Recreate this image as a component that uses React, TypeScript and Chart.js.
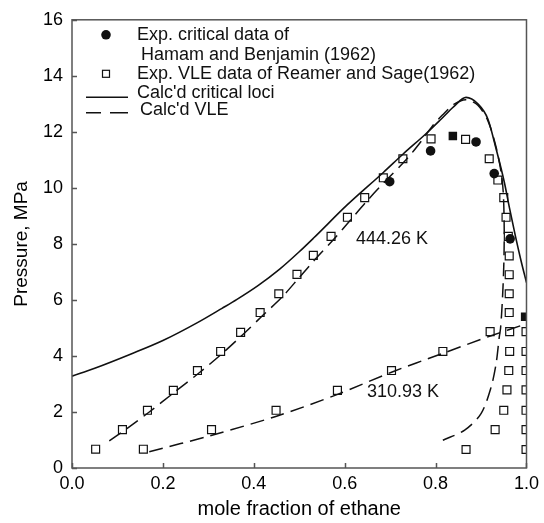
import React, { useEffect, useRef } from "react";
import { Chart, registerables } from "chart.js";

Chart.register(...registerables);

// ---------------- data ----------------
const xTickValues = [0, 0.2, 0.4, 0.6, 0.8, 1.0];
const yTickValues = [0, 2, 4, 6, 8, 10, 12, 14, 16];

// Calc'd critical loci (solid)
const critLocusX = [0, 0.05, 0.13, 0.2, 0.276, 0.33, 0.363, 0.41, 0.457, 0.5, 0.531, 0.606, 0.685, 0.728, 0.78, 0.812, 0.84, 0.867, 0.893, 0.915, 0.933, 0.951, 0.963, 0.976, 0.988, 1.0];
const critLocusY = [3.28, 3.56, 4.07, 4.55, 5.19, 5.7, 6.02, 6.52, 7.1, 7.72, 8.2, 9.4, 10.55, 11.2, 11.95, 12.45, 12.9, 13.23, 13.0, 12.46, 11.4, 10.22, 9.25, 8.25, 7.4, 6.62];

// Calc'd VLE 444.26 K (dashed loop)
const vle444X = [0.082, 0.12, 0.17, 0.225, 0.28, 0.33, 0.375, 0.42, 0.462, 0.5, 0.535, 0.575, 0.61, 0.65, 0.69, 0.735, 0.77, 0.794, 0.815, 0.84, 0.867, 0.893, 0.915, 0.933, 0.944, 0.949, 0.951, 0.95, 0.947, 0.943, 0.94, 0.933, 0.922, 0.9, 0.864, 0.816];
const vle444Y = [0.97, 1.4, 2.0, 2.7, 3.4, 4.08, 4.75, 5.45, 6.1, 6.8, 7.45, 8.15, 8.8, 9.55, 10.25, 11.0, 11.7, 12.23, 12.6, 12.98, 13.15, 12.95, 12.4, 11.46, 10.57, 9.8, 8.5, 7.2, 6.0, 5.0, 4.66, 3.71, 2.88, 1.94, 1.35, 0.99];

// Calc'd VLE 310.93 K (dashed)
const vle311X = [0.17, 0.308, 0.45, 0.583, 0.703, 0.812, 0.922, 1.0];
const vle311Y = [0.58, 1.17, 1.85, 2.62, 3.42, 4.07, 4.72, 5.15];

// Exp. VLE data of Reamer and Sage (1962)
const expVleX = [
  0.052, 0.111, 0.166, 0.223, 0.276, 0.327, 0.371, 0.414, 0.455, 0.495, 0.531, 0.57, 0.606, 0.644, 0.685, 0.728, 0.79,
  0.866, 0.918, 0.937, 0.95, 0.955, 0.96, 0.962, 0.962, 0.962, 0.962, 0.963, 0.963, 0.961, 0.957, 0.95, 0.931, 0.867,
  0.157, 0.307, 0.449, 0.584, 0.703, 0.816, 0.92,
  0.999, 0.999, 0.999, 0.999, 0.999, 0.999, 0.999,
];
const expVleY = [
  0.67, 1.37, 2.06, 2.77, 3.48, 4.16, 4.84, 5.55, 6.22, 6.91, 7.59, 8.27, 8.95, 9.65, 10.36, 11.04, 11.75,
  11.73, 11.04, 10.28, 9.65, 8.95, 8.27, 7.57, 6.9, 6.22, 5.55, 4.87, 4.16, 3.48, 2.79, 2.06, 1.37, 0.66,
  0.67, 1.37, 2.06, 2.77, 3.48, 4.16, 4.87,
  0.66, 1.37, 2.06, 2.79, 3.48, 4.16, 4.87,
];

// Exp. critical data of Hamam and Benjamin (1962)
const expCritX = [0.699, 0.789, 0.838, 0.889, 0.929, 0.964, 0.997];
const expCritY = [10.22, 11.32, 11.85, 11.64, 10.51, 8.18, 5.4];

const legendLabels = [
  "Exp. critical data of",
  "Hamam and Benjamin (1962)",
  "Exp. VLE data of Reamer and Sage(1962)",
  "Calc'd critical loci",
  "Calc'd VLE",
];
const isothermLabels = ["444.26 K", "310.93 K"];
const isothermLabelX = [0.625, 0.649];
const isothermLabelY = [8.16, 2.71];

// ---------------- chart ----------------
const FONT = '"Liberation Sans", Arial, Helvetica, sans-serif';
const INK = "#111";
const AXIS = "#555";

const toPts = (xs: number[], ys: number[]) => xs.map((x, i) => ({ x, y: ys[i] }));

export default function App() {
  const ref = useRef<HTMLCanvasElement>(null);

  useEffect(() => {
    if (!ref.current) return;

    const framePlugin = {
      id: "frame",
      afterDraw(chart: any) {
        const { ctx, chartArea: a, scales } = chart;
        ctx.save();
        ctx.strokeStyle = AXIS;
        ctx.lineWidth = 1.5;
        ctx.strokeRect(a.left, a.top, a.right - a.left, a.bottom - a.top);
        ctx.beginPath();
        xTickValues.forEach((v) => {
          const px = Math.round(scales.x.getPixelForValue(v)) + 0.5;
          ctx.moveTo(px, a.bottom);
          ctx.lineTo(px, a.bottom - 5);
        });
        yTickValues.forEach((v) => {
          const py = Math.round(scales.y.getPixelForValue(v)) + 0.5;
          ctx.moveTo(a.left, py);
          ctx.lineTo(a.left + 5, py);
        });
        ctx.stroke();

        // legend
        const L = a.left;
        const T = a.top;
        ctx.fillStyle = INK;
        ctx.strokeStyle = INK;
        ctx.beginPath();
        ctx.arc(L + 34, T + 15, 4.8, 0, Math.PI * 2);
        ctx.fill();
        ctx.lineWidth = 1.2;
        ctx.strokeRect(L + 30.5, T + 50.5, 7, 7);
        ctx.lineWidth = 1.5;
        ctx.beginPath();
        ctx.moveTo(L + 14, T + 77.5);
        ctx.lineTo(L + 56, T + 77.5);
        ctx.stroke();
        ctx.beginPath();
        ctx.moveTo(L + 14, T + 93);
        ctx.lineTo(L + 29, T + 93);
        ctx.moveTo(L + 38, T + 93);
        ctx.lineTo(L + 56, T + 93);
        ctx.stroke();

        ctx.font = `18px ${FONT}`;
        ctx.textBaseline = "alphabetic";
        ctx.textAlign = "left";
        ctx.fillText(legendLabels[0], L + 65, T + 20);
        ctx.fillText(legendLabels[1], L + 69, T + 40);
        ctx.fillText(legendLabels[2], L + 65, T + 59);
        ctx.fillText(legendLabels[3], L + 65, T + 78.5);
        ctx.fillText(legendLabels[4], L + 68, T + 95.5);

        // isotherm labels
        ctx.textBaseline = "middle";
        isothermLabels.forEach((t, i) => {
          ctx.fillText(t, scales.x.getPixelForValue(isothermLabelX[i]), scales.y.getPixelForValue(isothermLabelY[i]));
        });
        ctx.restore();
      },
    };

    const chart = new Chart(ref.current, {
      type: "scatter",
      data: {
        datasets: [
          {
            label: "Exp. critical data",
            data: toPts(expCritX, expCritY),
            pointStyle: (c: any) => (c.dataIndex === 2 || c.dataIndex === 6 ? "rect" : "circle"),
            pointRadius: (c: any) => (c.dataIndex === 2 || c.dataIndex === 6 ? 6 : 4.8),
            backgroundColor: INK,
            borderColor: INK,
            borderWidth: 0,
            showLine: false,
          },
          {
            label: "Exp. VLE data",
            data: toPts(expVleX, expVleY),
            pointStyle: "rect",
            pointRadius: 5.6,
            backgroundColor: "rgba(0,0,0,0)",
            borderColor: INK,
            borderWidth: 1.2,
            showLine: false,
          },
          {
            label: "Calc'd critical loci",
            data: toPts(critLocusX, critLocusY),
            showLine: true,
            borderColor: INK,
            borderWidth: 1.6,
            pointRadius: 0,
            cubicInterpolationMode: "monotone",
            fill: false,
          },
          {
            label: "Calc'd VLE 444.26 K",
            data: toPts(vle444X, vle444Y),
            showLine: true,
            borderColor: INK,
            borderWidth: 1.5,
            borderDash: [14, 7],
            pointRadius: 0,
            tension: 0.3,
            fill: false,
          },
          {
            label: "Calc'd VLE 310.93 K",
            data: toPts(vle311X, vle311Y),
            showLine: true,
            borderColor: INK,
            borderWidth: 1.5,
            borderDash: [14, 7],
            pointRadius: 0,
            tension: 0.3,
            fill: false,
          },
        ],
      },
      options: {
        responsive: false,
        animation: false,
        events: [],
        layout: { padding: { left: 0, right: 15, top: 17, bottom: 0 } },
        plugins: { legend: { display: false }, tooltip: { enabled: false } },
        scales: {
          x: {
            type: "linear",
            min: 0,
            max: 1,
            afterFit: (s: any) => {
              s.height = 55;
            },
            ticks: {
              stepSize: 0.2,
              callback: (v: any) => Number(v).toFixed(1),
              font: { family: FONT, size: 18 },
              color: "#000",
              padding: 5,
              maxRotation: 0,
              autoSkip: false,
            },
            grid: { display: false, drawTicks: false },
            border: { display: false },
            title: {
              display: true,
              text: "mole fraction of ethane",
              font: { family: FONT, size: 20 },
              color: "#000",
              padding: { top: 0, bottom: 2 },
            },
          },
          y: {
            type: "linear",
            min: 0,
            max: 16,
            afterFit: (s: any) => {
              s.width = 72;
            },
            ticks: {
              stepSize: 2,
              font: { family: FONT, size: 18 },
              color: "#000",
              padding: 9,
              autoSkip: false,
            },
            grid: { display: false, drawTicks: false },
            border: { display: false },
            title: {
              display: true,
              text: "Pressure, MPa",
              font: { family: FONT, size: 19 },
              color: "#000",
              padding: { top: 10, bottom: 0 },
            },
          },
        },
      },
      plugins: [framePlugin],
    });

    return () => chart.destroy();
  }, []);

  return (
    <div style={{ position: "absolute", left: 0, top: 0, width: 544, height: 523, background: "#fff" }}>
      <canvas ref={ref} width={544} height={523} style={{ display: "block", width: 544, height: 523 }} />
    </div>
  );
}
